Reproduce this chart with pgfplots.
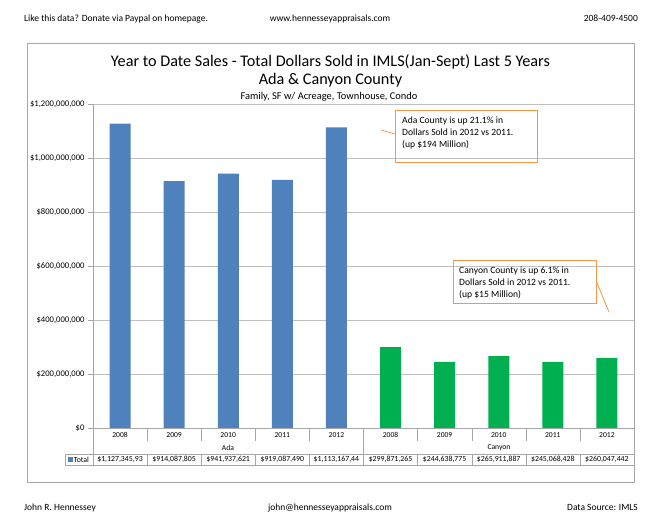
\documentclass[border=0pt]{standalone}
\usepackage{fontspec}
\setmainfont{Carlito}
\usepackage{pgfplots}
\pgfplotsset{compat=1.18}
\definecolor{adablue}{HTML}{4F81BD}
\definecolor{cangreen}{HTML}{00B050}
\definecolor{gridgray}{HTML}{BFBFBF}
\definecolor{framegray}{HTML}{A6A6A6}
\definecolor{callout}{HTML}{F79646}
\pgfplotstableread{
x y
0 1127345930
1 914087805
2 941937621
3 919087490
4 1113167440
}\adatable
\pgfplotstableread{
x y
5 299871265
6 244638775
7 265911887
8 245068428
9 260047442
}\canyontable
\begin{document}
\begin{tikzpicture}
\fill[white] (0pt,0pt) rectangle (656pt,518pt);
% header
\node[anchor=base west,font=\fontsize{9.5}{11}\selectfont,inner sep=0pt] at (24pt,496pt) {Like this data? Donate via Paypal on homepage.};
\node[anchor=base,font=\fontsize{9.5}{11}\selectfont,inner sep=0pt] at (330pt,496pt) {www.hennesseyappraisals.com};
\node[anchor=base east,font=\fontsize{9.5}{11}\selectfont,inner sep=0pt] at (638pt,496pt) {208-409-4500};
% footer
\node[anchor=base west,font=\fontsize{9.5}{11}\selectfont,inner sep=0pt] at (24pt,7pt) {John R. Hennessey};
\node[anchor=base,font=\fontsize{9.5}{11}\selectfont,inner sep=0pt] at (330pt,7pt) {john@hennesseyappraisals.com};
\node[anchor=base east,font=\fontsize{9.5}{11}\selectfont,inner sep=0pt] at (638pt,7pt) {Data Source: IMLS};
% frame
\draw[framegray,line width=0.8pt] (27pt,36pt) rectangle (634pt,475pt);
% titles
\node[anchor=base,font=\fontsize{16.2}{18}\selectfont,inner sep=0pt] at (330.5pt,451pt) {Year to Date Sales - Total Dollars Sold in IMLS(Jan-Sept) Last 5 Years};
\node[anchor=base,font=\fontsize{16.2}{18}\selectfont,inner sep=0pt] at (330.5pt,433pt) {Ada \& Canyon County};
\node[anchor=base,font=\fontsize{10.4}{12}\selectfont,inner sep=0pt] at (329pt,418pt) {Family, SF w/ Acreage, Townhouse, Condo};
\begin{axis}[
  at={(93pt,90pt)}, anchor=south west,
  scale only axis, width=541pt, height=324pt,
  xmin=-0.5, xmax=9.5, ymin=0, ymax=1.2e9,
  axis x line*=bottom, axis y line*=left,
  axis line style={framegray,-},
  xtick=\empty,
  scaled y ticks=false,
  ytick={0,2e8,4e8,6e8,8e8,1e9,1.2e9},
  yticklabels={\$0,{\$200,000,000},{\$400,000,000},{\$600,000,000},{\$800,000,000},{\$1,000,000,000},{\$1,200,000,000}},
  yticklabel style={font=\fontsize{8.6}{10}\selectfont},
  tick align=outside, major tick length=5pt,
  tick style={framegray},
  ymajorgrids, grid style={gridgray},
  ybar, bar width=21pt,
  clip=false,
]
\addplot[fill=adablue, draw=none, bar shift=0pt] table[x=x,y=y] {\adatable};
\addplot[fill=cangreen, draw=none, bar shift=0pt] table[x=x,y=y] {\canyontable};
\end{axis}
% data table
\begin{scope}[framegray]
\foreach \k in {0,...,10} {
  \draw (93pt+54.1pt*\k,90pt) -- (93pt+54.1pt*\k,77pt);
  \draw (93pt+54.1pt*\k,64pt) -- (93pt+54.1pt*\k,53pt);
}
\draw (93pt,77pt) -- (93pt,64pt);
\draw (363.5pt,77pt) -- (363.5pt,64pt);
\draw (634pt,77pt) -- (634pt,64pt);
\draw (65pt,64pt) -- (634pt,64pt);
\draw (65pt,53pt) -- (634pt,53pt);
\draw (65pt,64pt) -- (65pt,53pt);
\end{scope}
\foreach \lab [count=\i from 0] in {2008,2009,2010,2011,2012,2008,2009,2010,2011,2012} {
  \node[font=\fontsize{7.6}{8}\selectfont] at (120pt+54.1pt*\i,83pt) {\lab};
}
\node[font=\fontsize{7.6}{8}\selectfont] at (228pt,70pt) {Ada};
\node[font=\fontsize{7.6}{8}\selectfont] at (499pt,70pt) {Canyon};
\foreach \lab [count=\i from 0] in {{\$1,127,345,93},{\$914,087,805},{\$941,937,621},{\$919,087,490},{\$1,113,167,44},{\$299,871,265},{\$244,638,775},{\$265,911,887},{\$245,068,428},{\$260,047,442}} {
  \node[font=\fontsize{7.8}{9}\selectfont] at (120pt+54.1pt*\i,58.5pt) {\lab};
}
\fill[adablue] (67.5pt,56pt) rectangle (72.5pt,61pt);
\node[anchor=west,font=\fontsize{7.8}{9}\selectfont,inner sep=0pt] at (73.5pt,58.5pt) {Total};
% callouts
\draw[callout,line width=0.8pt] (381pt,388pt) -- (395pt,384pt);
\draw[callout,line width=0.8pt] (395pt,408pt) rectangle (537pt,356pt);
\node[anchor=base west,font=\fontsize{9.6}{11.6}\selectfont,inner sep=0pt] at (402pt,394pt) {Ada County is up 21.1\% in};
\node[anchor=base west,font=\fontsize{9.6}{11.6}\selectfont,inner sep=0pt] at (402pt,382.4pt) {Dollars Sold in 2012 vs 2011.};
\node[anchor=base west,font=\fontsize{9.6}{11.6}\selectfont,inner sep=0pt] at (402pt,370.8pt) {(up \$194 Million)};
\draw[callout,line width=0.8pt] (597pt,235pt) -- (609pt,206pt);
\draw[callout,line width=0.8pt] (453pt,258pt) rectangle (596pt,215pt);
\node[anchor=base west,font=\fontsize{9.6}{11.6}\selectfont,inner sep=0pt] at (459pt,244pt) {Canyon County is up 6.1\% in};
\node[anchor=base west,font=\fontsize{9.6}{11.6}\selectfont,inner sep=0pt] at (459pt,232.4pt) {Dollars Sold in 2012 vs 2011.};
\node[anchor=base west,font=\fontsize{9.6}{11.6}\selectfont,inner sep=0pt] at (459pt,220.8pt) {(up \$15 Million)};
\end{tikzpicture}
\end{document}
